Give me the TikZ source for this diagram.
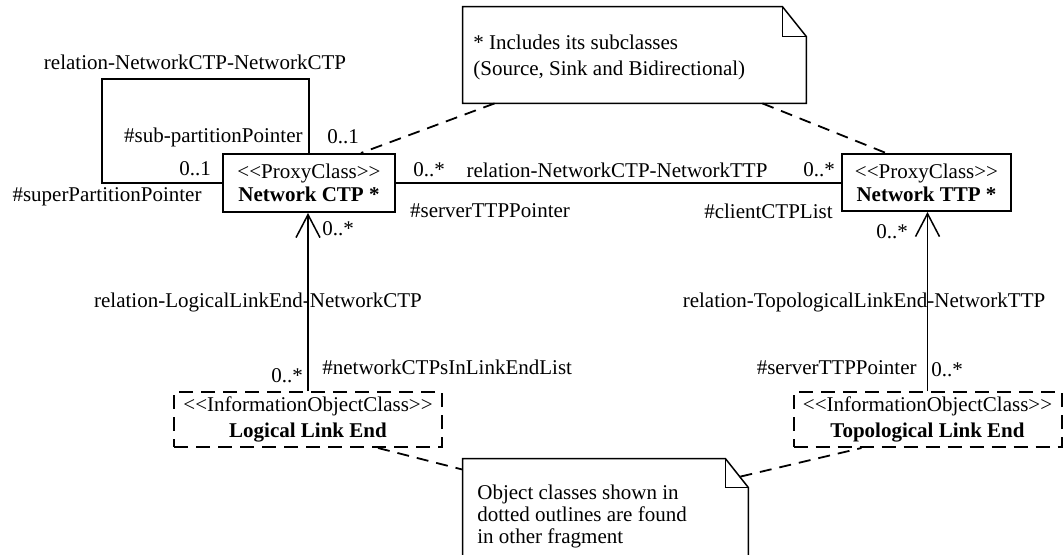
\documentclass[tikz,border=0pt]{standalone}
\usepackage{fontspec}
\setmainfont{Liberation Serif}
\usetikzlibrary{arrows.meta,calc}
\begin{document}
\begin{tikzpicture}[x=0.5pt,y=-0.5pt,
  every node/.style={font=\fontsize{10.5}{12}\selectfont, inner sep=0pt},
  proxy/.style={draw, line width=1pt, minimum width=86pt, minimum height=29pt, align=center, font=\fontsize{10.5}{11.5}\selectfont},
  info/.style={draw, dash pattern=on 7pt off 4pt, line width=1pt, minimum width=134pt, minimum height=27.5pt, align=center, font=\fontsize{10.5}{13}\selectfont},
  assoc/.style={line width=0.75pt},
  navarrow/.style={assoc, -{Straight Barb[length=11.5pt,width=12pt]}},
  noteline/.style={dash pattern=on 6pt off 4pt, line width=0.9pt},
  noteframe/.style={line width=0.75pt},
  notebox/.style={draw=none}]
\useasboundingbox (0,0) rectangle (1064,555);
\clip (0,0) rectangle (1064,555);

% classes
\node[proxy] (CTP) at (309,183) {<{}<ProxyClass>{}>\\\textbf{Network CTP *}};
\node[proxy, minimum width=84.5pt, minimum height=28.5pt] (TTP) at (926.5,182.5) {<{}<ProxyClass>{}>\\\textbf{Network TTP *}};
\node[info] (LLE) at (308,419.5) {<{}<InformationObjectClass>{}>\\\textbf{Logical Link End}};
\node[info] (TLE) at (927.5,419.5) {<{}<InformationObjectClass>{}>\\\textbf{Topological Link End}};

% notes
\node[notebox, minimum width=171.5pt, minimum height=48pt] (note1) at (634.5,55) {};
\node[anchor=west, align=left, font=\fontsize{10.5}{13}\selectfont] (note1text) at (473,57) {* Includes its subclasses\\(Source, Sink and Bidirectional)};
\draw[noteframe] (note1.south west) -- (note1.north west) -- ($(note1.north east)+(-24,0)$) -- ($(note1.north east)+(0,30)$) -- (note1.south east) -- cycle;
\draw[noteframe] ($(note1.north east)+(-24,0)$) |- ($(note1.north east)+(0,30)$);

\node[notebox, minimum width=142.5pt, minimum height=60.5pt] (note2) at (605.5,519.5) {};
\node[anchor=west, align=left, font=\fontsize{10.5}{11}\selectfont] (note2text) at (477,516) {Object classes shown in\\dotted outlines are found\\in other fragment};
\draw[noteframe] (note2.south west) -- (note2.north west) -- ($(note2.north east)+(-23,0)$) -- ($(note2.north east)+(0,29)$) -- (note2.south east);
\draw[noteframe] ($(note2.north east)+(-23,0)$) |- ($(note2.north east)+(0,29)$);

% note connectors
\draw[noteline] ($(note1.south west)+(32,0)$) -- ($(CTP.north east)+(-35,0)$);
\draw[noteline] ($(note1.south east)+(-44,0)$) -- ($(TTP.north west)+(45,0)$);
\draw[noteline] ($(LLE.south east)+(-65,0)$) -- ($(note2.north west)+(0,11)$);
\draw[noteline] ($(note2.north east)+(-8,18)$) -- ($(TLE.south west)+(69,0)$);

% associations
\coordinate (loopA) at (102,79);
\draw[assoc] (CTP.north) |- (loopA) |- (CTP.west);
\draw[assoc] (CTP.east) -- (CTP.east -| TTP.west);
\draw[navarrow] (LLE.north) -- (LLE.north |- CTP.south);
\draw[navarrow] (TLE.north) -- (TLE.north |- TTP.south);

% labels
\node (lblself) at (195,62) {relation-NetworkCTP-NetworkCTP};
\node[anchor=east] (subp) at (303,137) {\#sub-partitionPointer};
\node (m1) at (343,137) {0..1};
\node (m2) at (195,169) {0..1};
\node (superp) at (107,197) {\#superPartitionPointer};
\node (m3) at (429,170) {0..*};
\node (lblmid) at (617,170) {relation-NetworkCTP-NetworkTTP};
\node (server1) at (490,211) {\#serverTTPPointer};
\node (m4) at (819,170) {0..*};
\node[anchor=east] (client) at (833,211) {\#clientCTPList};
\node (m5) at (892,232) {0..*};
\node (m6) at (338,229) {0..*};
\node (lblleft) at (258,302) {relation-LogicalLinkEnd-NetworkCTP};
\node[anchor=west] (ncl) at (322,367) {\#networkCTPsInLinkEndList};
\node (m7) at (287,376) {0..*};
\node (lblright) at (864,302) {relation-TopologicalLinkEnd-NetworkTTP};
\node[anchor=east] (server2) at (917,368) {\#serverTTPPointer};
\node (m8) at (947,370) {0..*};
\end{tikzpicture}
\end{document}
